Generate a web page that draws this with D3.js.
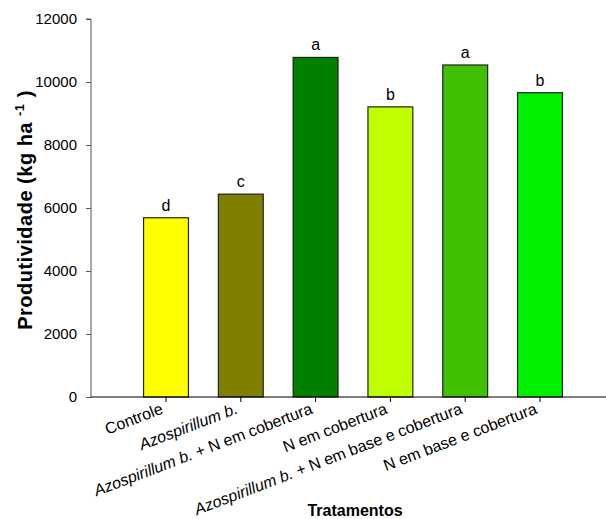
<!DOCTYPE html>
<html lang="pt">
	<head>
		<meta charset="utf-8">
		<title>Produtividade por tratamento</title>
		<script type="text/javascript" src="https://cdn.jsdelivr.net/npm/d3@7"></script>
		<style type="text/css">
			* {
				margin: 0;
				padding: 0;
			}
			body {
				background-color: white;
				font-family: "Liberation Sans", Arial, sans-serif;
			}
			svg {
				display: block;
			}
			.tick text {
				font-size: 15px;
				fill: #000;
			}
		</style>
	</head>
	<body>
		<div id="chart"></div>
		<script type="text/javascript">

			//Data
			var categories = ["Controle", "Azospirillum b.", "Azospirillum b. + N em cobertura",
				"N em cobertura", "Azospirillum b. + N em base e cobertura", "N em base e cobertura"];
			var values = [5690, 6440, 10780, 9210, 10540, 9660];
			var letters = ["d", "c", "a", "b", "a", "b"];
			var colors = ["#ffff00", "#808000", "#008000", "#c0ff00", "#40c000", "#00f000"];
			var yTicks = [0, 2000, 4000, 6000, 8000, 10000, 12000];

			var w = 606;
			var h = 519;

			var svg = d3.select("#chart")
				.append("svg")
				.attr("width", w)
				.attr("height", h);

			var y = d3.scaleLinear()
				.domain([0, 12000])
				.range([397, 19]);

			var x = d3.scaleBand()
				.domain(categories)
				.range([128.6, 577.4])
				.paddingInner(0.4)
				.paddingOuter(0.2);

			//bars
			svg.append("g")
				.selectAll("rect")
				.data(values)
				.enter()
				.append("rect")
				.attr("x", function(d, i) { return x(categories[i]); })
				.attr("y", function(d) { return y(d); })
				.attr("width", x.bandwidth())
				.attr("height", function(d) { return y(0) - y(d); })
				.attr("fill", function(d, i) { return colors[i]; })
				.attr("stroke", "#222")
				.attr("stroke-width", 1.2);

			//significance letters
			svg.append("g")
				.selectAll("text")
				.data(values)
				.enter()
				.append("text")
				.attr("x", function(d, i) { return x(categories[i]) + x.bandwidth() / 2; })
				.attr("y", function(d) { return y(d) - 7; })
				.attr("text-anchor", "middle")
				.style("font-size", "16px")
				.text(function(d, i) { return letters[i]; });

			//y axis
			var yAxis = svg.append("g")
				.attr("transform", "translate(91,0)")
				.call(d3.axisLeft(y).tickValues(yTicks).tickSize(5).tickPadding(9).tickFormat(d3.format("d")));
			yAxis.select(".domain").attr("stroke", "#555").attr("d", "M0," + y(12000) + "H-5M0," + y(12000) + "V" + y(0));
			yAxis.selectAll(".tick line").attr("stroke", "#555");

			//x axis
			var xAxis = svg.append("g")
				.attr("transform", "translate(0," + y(0) + ")")
				.call(d3.axisBottom(x).tickSize(5).tickFormat(""));
			xAxis.select(".domain").attr("d", "M91,0H606").attr("stroke", "#000").attr("stroke-width", 1.2);

			//category labels, rotated
			var labels = svg.append("g")
				.selectAll("text")
				.data(categories)
				.enter()
				.append("text")
				.attr("text-anchor", "end")
				.style("font-size", "16px")
				.attr("transform", function(d) {
					var cx = x(d) + x.bandwidth() / 2 - 2;
					return "translate(" + cx + "," + (y(0) + 16) + ") rotate(-21)";
				});

			labels.each(function(d) {
				var t = d3.select(this);
				var k = d.indexOf("Azospirillum b.");
				if (k < 0) {
					t.text(d);
				} else {
					t.append("tspan").style("font-style", "italic").text("Azospirillum b.");
					var rest = d.slice(k + 15);
					if (rest.length) t.append("tspan").text(rest);
				}
			});

			//axis titles
			svg.append("text")
				.attr("x", 355)
				.attr("y", 516)
				.attr("text-anchor", "middle")
				.style("font-size", "16px")
				.style("font-weight", "bold")
				.text("Tratamentos");

			var yl = svg.append("text")
				.attr("transform", "translate(32,210) rotate(-90)")
				.attr("text-anchor", "middle")
				.style("font-size", "20px")
				.style("letter-spacing", "0.5px")
				.style("font-weight", "bold");
			yl.append("tspan").text("Produtividade (kg ha ");
			yl.append("tspan").attr("dy", -8).style("font-size", "13px").text("-1");
			yl.append("tspan").attr("dy", 8).text(" )");

		</script>
	</body>
</html>
